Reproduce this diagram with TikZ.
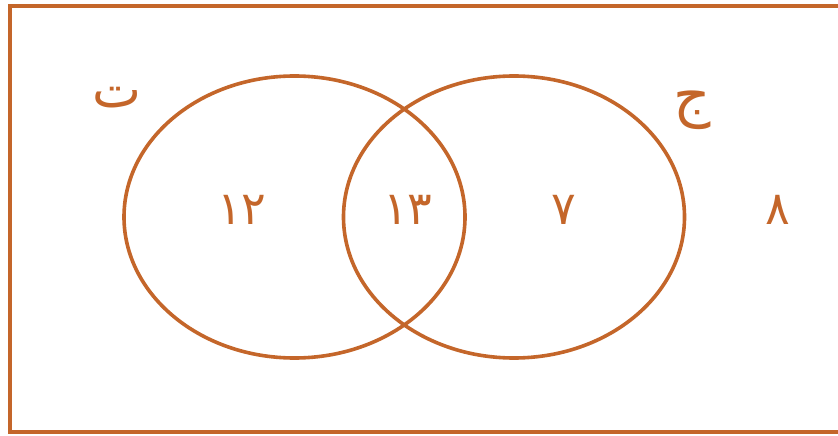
\documentclass[tikz,border=0pt]{standalone}
\usepackage{fontspec}
\newfontfamily\arabicfont[Script=Arabic]{DejaVu Sans}
\TeXXeTstate=1
\usetikzlibrary{shapes.geometric}
\definecolor{vennorange}{RGB}{196,102,42}
\tikzset{
  setshape/.style={draw=vennorange, line width=3.6pt, ellipse, inner sep=0pt,
    minimum width=341pt, minimum height=282pt},
  numtext/.style={text=vennorange, font=\arabicfont\fontsize{46}{50}\selectfont, inner sep=0pt},
  labtext/.style={text=vennorange, font=\arabicfont\fontsize{52}{56}\selectfont, inner sep=0pt}
}
\begin{document}
\begin{tikzpicture}[x=1pt,y=-1pt]
\clip (0,0) rectangle (838,436);
\fill[white] (0,0) rectangle (838,436);
\draw[vennorange, line width=4.6pt] (10,6) rectangle (860,432);
\node[setshape] (T) at (294.5,217) {};
\node[setshape] (J) at (514,217) {};
\node[numtext] (n12) at (242,210) {١٢};
\node[numtext] (n13) at (408,210) {١٣};
\node[numtext] (n7) at (564,210) {٧};
\node[numtext] (n8) at (778,210) {٨};
\node[labtext] (lt) at (117,98) {\beginR ت\endR};
\node[labtext, font=\arabicfont\fontsize{58}{62}\selectfont] (lj) at (692,110) {\beginR ج\endR};
\end{tikzpicture}
\end{document}
